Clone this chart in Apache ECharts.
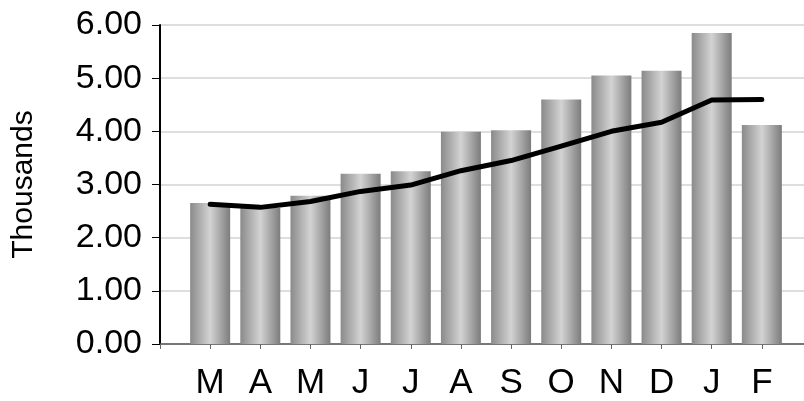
<!DOCTYPE html>
<html>
<head>
<meta charset="utf-8">
<script src="https://cdn.jsdelivr.net/npm/echarts@6/dist/echarts.min.js"></script>
<style>
  html, body { margin: 0; padding: 0; background: #ffffff; overflow: hidden; }
  /* canvas is a little wider than the window; the trailing empty slot falls off the right edge */
  #chart { width: 815px; height: 401px; }
</style>
</head>
<body>
<div id="chart"></div>
<script>
// Monthly totals (thousands) and their trend line
const months = ['M', 'A', 'M', 'J', 'J', 'A', 'S', 'O', 'N', 'D', 'J', 'F'];
const barValues = [2.65, 2.56, 2.79, 3.20, 3.25, 3.99, 4.02, 4.60, 5.05, 5.14, 5.85, 4.12];
const trendValues = [2.63, 2.57, 2.68, 2.87, 2.99, 3.26, 3.45, 3.72, 4.00, 4.17, 4.59, 4.60];
const yMin = 0;
const yMax = 6;
const yStep = 1;

// One empty slot on each side so the first month sits one step right of the value axis
const categories = [''].concat(months, ['']);
const barData = [null].concat(barValues, [null]);
const trendData = [null].concat(trendValues, [null]);

const chart = echarts.init(document.getElementById('chart'));

const barFill = new echarts.graphic.LinearGradient(0, 0, 1, 0, [
  { offset: 0, color: '#8a8a8a' },
  { offset: 0.5, color: '#d3d3d3' },
  { offset: 1, color: '#7c7c7c' }
]);

chart.setOption({
  animation: false,
  backgroundColor: '#ffffff',
  grid: { left: 160, right: 0, top: 25, bottom: 55, containLabel: false },
  xAxis: {
    type: 'category',
    data: categories,
    boundaryGap: false,
    axisLine: { show: true, lineStyle: { color: '#555555', width: 1.5 } },
    axisTick: { show: true, length: 5, lineStyle: { color: '#666666', width: 1 } },
    axisLabel: {
      interval: 0,
      margin: 22,
      color: '#000000',
      fontFamily: '"Liberation Sans", Arial, sans-serif',
      fontSize: 35,
      lineHeight: 35
    },
    splitLine: { show: false }
  },
  yAxis: {
    type: 'value',
    min: yMin,
    max: yMax,
    interval: yStep,
    name: 'Thousands',
    nameLocation: 'middle',
    nameGap: 121,
    nameRotate: 90,
    nameTextStyle: {
      color: '#000000',
      fontFamily: '"Liberation Sans", Arial, sans-serif',
      fontSize: 30,
      lineHeight: 30
    },
    axisLine: { show: true, lineStyle: { color: '#000000', width: 2 } },
    axisTick: { show: true, inside: false, length: 8, lineStyle: { color: '#000000', width: 1 } },
    axisLabel: {
      margin: 18,
      color: '#000000',
      fontFamily: '"Liberation Sans", Arial, sans-serif',
      fontSize: 34,
      lineHeight: 34,
      padding: [0, 0, 6, 0],
      formatter: function (v) { return v.toFixed(2); }
    },
    splitLine: { show: true, lineStyle: { color: '#dedede', width: 2 } }
  },
  series: [
    {
      type: 'bar',
      data: barData,
      barWidth: 40,
      itemStyle: { color: barFill },
      z: 2
    },
    {
      type: 'line',
      data: trendData,
      symbol: 'none',
      smooth: false,
      lineStyle: { color: '#000000', width: 5, cap: 'round', join: 'round' },
      z: 3
    }
  ]
});
</script>
</body>
</html>
